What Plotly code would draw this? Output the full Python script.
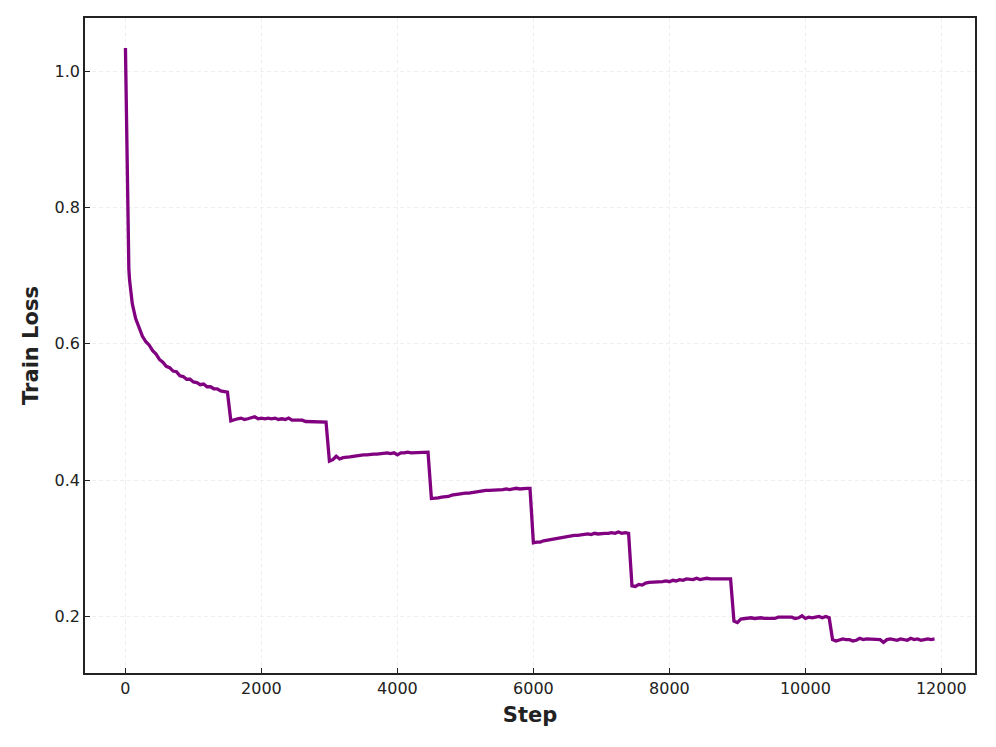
import plotly.graph_objects as go

# logged steps: dense at the start, then every 50 steps
warmup_steps = [0, 10, 20, 30, 40, 50, 60, 70, 80, 90, 100]
later_steps = list(range(150, 11901, 50))
steps = warmup_steps + later_steps

# train loss, one list per learning-rate phase
warmup = [1.034, 0.955, 0.862, 0.785, 0.737, 0.710, 0.694, 0.682, 0.673, 0.666, 0.659]
phase1 = [0.637, 0.625, 0.611, 0.603, 0.598, 0.590, 0.585, 0.577, 0.573, 0.567,
          0.565, 0.560, 0.559, 0.553, 0.552, 0.548, 0.548, 0.544, 0.543, 0.540,
          0.541, 0.537, 0.537, 0.534, 0.534, 0.531, 0.530, 0.529]
phase2 = [0.487, 0.489, 0.490, 0.491, 0.489, 0.490, 0.491, 0.493, 0.490, 0.491,
          0.490, 0.491, 0.490, 0.491, 0.489, 0.490, 0.489, 0.491, 0.488, 0.488,
          0.487, 0.488, 0.486, 0.486, 0.485, 0.486, 0.485, 0.485, 0.485]
phase3 = [0.428, 0.430, 0.435, 0.431, 0.433, 0.433, 0.434, 0.435, 0.436, 0.436,
          0.437, 0.437, 0.438, 0.438, 0.438, 0.439, 0.439, 0.440, 0.439, 0.440,
          0.437, 0.440, 0.440, 0.441, 0.440, 0.440, 0.441, 0.440, 0.441, 0.441]
phase4 = [0.373, 0.373, 0.374, 0.375, 0.375, 0.376, 0.378, 0.379, 0.380, 0.380,
          0.381, 0.381, 0.382, 0.383, 0.384, 0.384, 0.385, 0.385, 0.385, 0.386,
          0.386, 0.386, 0.387, 0.386, 0.387, 0.388, 0.387, 0.388, 0.388, 0.388]
phase5 = [0.308, 0.309, 0.309, 0.311, 0.312, 0.313, 0.314, 0.315, 0.315, 0.317,
          0.317, 0.318, 0.319, 0.319, 0.320, 0.320, 0.321, 0.320, 0.322, 0.321,
          0.322, 0.322, 0.322, 0.323, 0.322, 0.324, 0.322, 0.323, 0.322]
phase6 = [0.245, 0.244, 0.247, 0.246, 0.249, 0.250, 0.250, 0.251, 0.250, 0.251,
          0.252, 0.251, 0.253, 0.252, 0.254, 0.253, 0.255, 0.254, 0.254, 0.256,
          0.254, 0.255, 0.256, 0.255, 0.255, 0.256, 0.255, 0.256, 0.255, 0.255]
phase7 = [0.193, 0.191, 0.196, 0.197, 0.198, 0.198, 0.197, 0.198, 0.198, 0.197,
          0.197, 0.198, 0.197, 0.199, 0.199, 0.198, 0.198, 0.199, 0.197, 0.198,
          0.201, 0.197, 0.199, 0.198, 0.199, 0.200, 0.198, 0.200, 0.198]
phase8 = [0.166, 0.164, 0.166, 0.167, 0.166, 0.166, 0.164, 0.165, 0.168, 0.166,
          0.167, 0.167, 0.166, 0.167, 0.166, 0.162, 0.166, 0.167, 0.166, 0.165,
          0.167, 0.166, 0.165, 0.168, 0.166, 0.167, 0.165, 0.166, 0.167, 0.166,
          0.167]

loss = warmup + phase1 + phase2 + phase3 + phase4 + phase5 + phase6 + phase7 + phase8

x_ticks = [0, 2000, 4000, 6000, 8000, 10000, 12000]
x_labels = ['0', '2000', '4000', '6000', '8000', '10000', '12000']
y_ticks = [0.2, 0.4, 0.6, 0.8, 1.0]

fig = go.Figure(go.Scatter(x=steps, y=loss, mode='lines',
                           line=dict(color='#800080', width=3.3)))

axis_style = dict(showline=True, linecolor='#222222', linewidth=1.5, mirror=True,
                  ticks='inside', ticklen=5, tickwidth=1.2, tickcolor='#222222',
                  showgrid=True, gridcolor='#efefef', griddash='4px,3px', gridwidth=1,
                  zeroline=False, automargin=False,
                  tickfont=dict(size=16, color='#222222'))

# page body adds an 8px offset, so margins are shifted to compensate
fig.update_layout(
    width=996, height=747,
    margin=dict(l=77, r=29, t=10, b=82),
    paper_bgcolor='white', plot_bgcolor='white',
    font=dict(family='DejaVu Sans', color='#222222'),
    showlegend=False,
    xaxis=dict(axis_style, range=[-595, 12495], tickvals=x_ticks, ticktext=x_labels,
               title=dict(text='<b>Step</b>', font=dict(size=21), standoff=10)),
    yaxis=dict(axis_style, range=[0.117, 1.078], tickvals=y_ticks, tickformat='.1f',
               title=dict(text='<b>Train Loss</b>', font=dict(size=21), standoff=10)),
)

fig.write_html("out.html")
